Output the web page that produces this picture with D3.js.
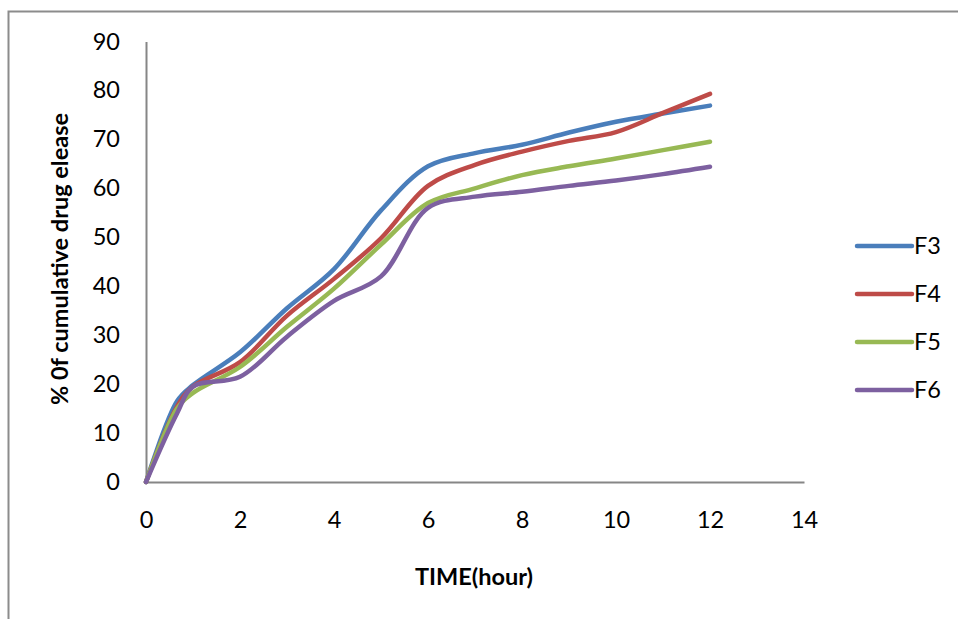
<!DOCTYPE html>
<html>
<head>
<meta charset="utf-8">
<script src="https://cdn.jsdelivr.net/npm/d3@7/dist/d3.min.js"></script>
<style>
  body { margin: 0; background: #fff; }
  svg { display: block; font-family: Lato, "Open Sans", sans-serif; }
</style>
</head>
<body>
<svg id="chart" width="958" height="619"></svg>
<script>
// Release data, hours vs % released
const times = [0, 0.66, 1, 2, 3, 4, 5, 6, 7, 8, 9, 10, 11, 12];
const f3 = [0, 16.5, 19.8, 26.5, 35.5, 43.5, 55.5, 64.5, 67.2, 68.9, 71.4, 73.6, 75.3, 76.9];
const f4 = [0, 15.4, 19.5, 24.5, 34, 41.5, 49.8, 60.5, 64.8, 67.5, 69.7, 71.5, 75.4, 79.3];
const f5 = [0, 15, 18.2, 23.5, 31.7, 39.5, 48.5, 57, 60, 62.7, 64.5, 66.1, 67.8, 69.5];
const f6 = [0, 14, 19.5, 21.5, 29.7, 37, 42, 56, 58.3, 59.3, 60.5, 61.6, 62.9, 64.4];

const seriesNames = ['F3', 'F4', 'F5', 'F6'];
const seriesValues = [f3, f4, f5, f6];
const seriesColors = ['#4a7ebb', '#be4b48', '#98b954', '#7d60a0'];

const xTicks = [0, 2, 4, 6, 8, 10, 12, 14];
const yTicks = [0, 10, 20, 30, 40, 50, 60, 70, 80, 90];

const fontSize = 23.5;
const padding = { top: 41.5, left: 146, right: 154, bottom: 137 };
const svg = d3.select('#chart');
const width = 958 - padding.left - padding.right;
const height = 619 - padding.top - padding.bottom;

// outer chart frame, runs off the right and bottom edges
svg.append('rect')
  .attr('x', 8.5)
  .attr('y', 11.5)
  .attr('width', 1000)
  .attr('height', 1000)
  .attr('fill', 'none')
  .attr('stroke', '#8c8c8c')
  .attr('stroke-width', 2);

const x = d3.scaleLinear().domain([0, 14]).range([0, width]);
const y = d3.scaleLinear().domain([0, 90]).range([height, 0]);

const canvas = svg.append('g').attr('transform', `translate(${padding.left}, ${padding.top})`);

// axes without tick marks, labels only
const xAxis = canvas.append('g')
  .attr('transform', `translate(0, ${height})`)
  .call(d3.axisBottom(x).tickValues(xTicks).tickSize(0).tickPadding(29));
const yAxis = canvas.append('g')
  .call(d3.axisLeft(y).tickValues(yTicks).tickSize(0).tickPadding(26));

[xAxis, yAxis].forEach(ax => {
  ax.select('.domain').attr('stroke', '#868686').attr('stroke-width', 2);
  ax.selectAll('text')
    .attr('font-family', 'Lato, "Open Sans", sans-serif')
    .attr('font-size', fontSize)
    .attr('fill', '#000');
});

const line = d3.line()
  .x(d => x(d[0]))
  .y(d => y(d[1]))
  .curve(d3.curveCatmullRom.alpha(0.5));

canvas.append('g')
  .selectAll('path')
  .data(seriesValues)
  .join('path')
  .attr('d', vals => line(vals.map((v, i) => [times[i], v])))
  .attr('fill', 'none')
  .attr('stroke', (d, i) => seriesColors[i])
  .attr('stroke-width', 4.5)
  .attr('stroke-linecap', 'round')
  .attr('stroke-linejoin', 'round');

// axis titles
svg.append('text')
  .attr('x', 474)
  .attr('y', 585)
  .attr('text-anchor', 'middle')
  .attr('font-weight', 'bold')
  .attr('font-size', fontSize)
  .text('TIME(hour)');

svg.append('text')
  .attr('transform', 'translate(68, 259) rotate(-90)')
  .attr('text-anchor', 'middle')
  .attr('font-weight', 'bold')
  .attr('font-size', fontSize)
  .text('% 0f cumulative drug elease');

// legend
const legend = svg.append('g')
  .selectAll('g')
  .data(seriesNames)
  .join('g')
  .attr('transform', (d, i) => `translate(857, ${246 + i * 48})`);

legend.append('line')
  .attr('x1', 0)
  .attr('x2', 55)
  .attr('stroke', (d, i) => seriesColors[i])
  .attr('stroke-width', 4.5)
  .attr('stroke-linecap', 'round');

legend.append('text')
  .attr('x', 57)
  .attr('dy', '0.36em')
  .attr('font-size', fontSize)
  .text(d => d);
</script>
</body>
</html>
